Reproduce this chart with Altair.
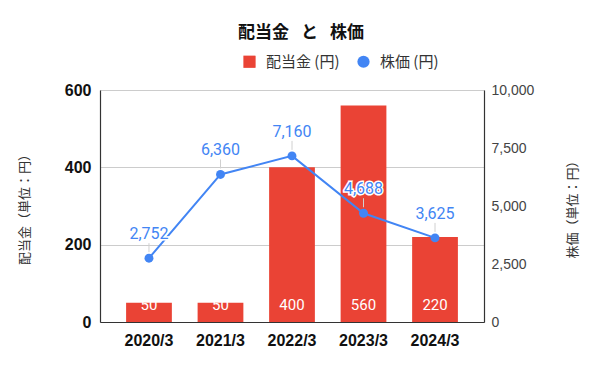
import altair as alt
import pandas as pd

years = ["2020/3", "2021/3", "2022/3", "2023/3", "2024/3"]
dividends = [50, 50, 400, 560, 220]
prices = [2752, 6360, 7160, 4688, 3625]
series_names = ["配当金 (円)", "株価 (円)"]
series_colors = ["#EA4335", "#4285F4"]
series_shapes = ["square", "circle"]
left_ticks = [0, 200, 400, 600]
right_ticks = [0, 2500, 5000, 7500, 10000]

df = pd.DataFrame({"year": years, "div": dividends, "price": prices})

JP = "Noto Sans CJK JP"
NUM = "Liberation Sans, Noto Sans CJK JP"
LBL = "Roboto, Noto Sans CJK JP"

x = alt.X("year:N", sort=years,
          scale=alt.Scale(paddingInner=0.36, paddingOuter=0.365),
          axis=alt.Axis(title=None, labelAngle=0, labelFont=NUM, labelFontSize=16,
                        labelFontWeight="bold", labelColor="#111", labelPadding=10,
                        ticks=False, domainColor="#333", domainWidth=1.2, grid=False))

cscale = alt.Scale(domain=series_names, range=series_colors)
leg = alt.Legend(title=None, orient="none", direction="horizontal",
                 legendX=142, legendY=-36, symbolSize=150, labelFont=JP,
                 labelFontSize=15, labelColor="#333", labelOffset=9,
                 columnPadding=16, symbolStrokeWidth=0, symbolOpacity=1)

yl = alt.Y("div:Q", scale=alt.Scale(domain=[0, 600]),
           axis=alt.Axis(title="配当金（単位：円）", values=left_ticks, labelFont=NUM,
                         labelFontSize=16, labelFontWeight="bold", labelColor="#111",
                         labelPadding=9, ticks=False, domainColor="#333", domainWidth=1.2,
                         gridColor="#cccccc", titleFont=JP, titleFontSize=13,
                         titleFontWeight="normal", titleColor="#333", titlePadding=33))

bars = alt.Chart(df).transform_calculate(s="'配当金 (円)'").mark_bar().encode(
    x=x, y=yl, color=alt.Color("s:N", scale=cscale, legend=leg))

bar_text = alt.Chart(df).mark_text(color="white", font=LBL, fontSize=15, dy=-17).encode(
    x=x, y=alt.Y(datum=0, scale=alt.Scale(domain=[0, 600])), text=alt.Text("div:Q"))

yr = alt.Y("price:Q", scale=alt.Scale(domain=[0, 10000]),
           axis=alt.Axis(title="株価（単位：円）", orient="right", values=right_ticks,
                         labelExpr="format(datum.value, ',')", labelFont=NUM,
                         labelFontSize=14, labelColor="#444",
                         labelPadding=7, ticks=False, grid=False, domainColor="#333",
                         domainWidth=1.2, titleFont=JP, titleFontSize=13,
                         titleFontWeight="normal", titleColor="#333", titleAngle=270,
                         titlePadding=46))

line = alt.Chart(df).mark_line(color="#4285F4", strokeWidth=2).encode(x=x, y=yr)
stems = alt.Chart(df).mark_rule(color="#d0d0d0", strokeWidth=1, yOffset=-15, y2Offset=-6).encode(
    x=x, y=yr, y2="price:Q")
pts = alt.Chart(df).transform_calculate(s="'株価 (円)'").mark_point(
    filled=True, size=80, opacity=1).encode(
    x=x, y=yr,
    color=alt.Color("s:N", scale=cscale, legend=leg),
    shape=alt.Shape("s:N", scale=alt.Scale(domain=series_names, range=series_shapes), legend=leg))
halo = alt.Chart(df).mark_text(font=LBL, fontSize=16, dy=-24, stroke="white",
                               strokeWidth=3, color="white").encode(
    x=x, y=yr, text=alt.Text("price:Q", format=","))
ptxt = alt.Chart(df).mark_text(font=LBL, fontSize=16, dy=-24, color="#4285F4").encode(
    x=x, y=yr, text=alt.Text("price:Q", format=","))

right = alt.layer(line, stems, pts, halo, ptxt)
left = alt.layer(bars, bar_text)

chart = alt.layer(left, right).resolve_scale(y="independent").properties(
    width=384, height=232,
    title=alt.TitleParams("配当金\u2002\u2009と\u2002\u2009株価", font=JP, fontSize=17,
                          fontWeight="bold", color="#111", anchor="middle", offset=12,
                          dx=9),
    autosize=alt.AutoSizeParams(type="none"),
    padding={"left": 92, "top": 82, "right": 108, "bottom": 41},
).configure_view(stroke=None).configure(background="white")

chart.save("out.html", embed_options={"renderer": "svg", "actions": False})
